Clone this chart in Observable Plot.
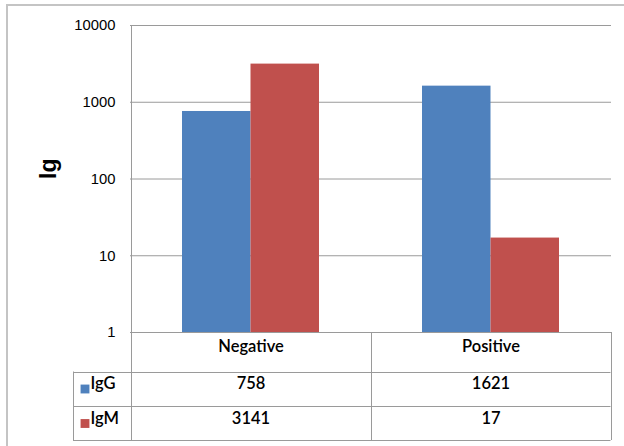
<!DOCTYPE html>
<html><head><meta charset="utf-8">
<script src="https://cdn.jsdelivr.net/npm/d3@7"></script>
<script src="https://cdn.jsdelivr.net/npm/@observablehq/plot@0.6"></script>
<style>body{margin:0;background:#fff}#chart svg{display:block}</style>
</head><body><div id="chart"></div>
<script>
const categories = ["Negative", "Positive"];
const seriesNames = ["IgG", "IgM"];
const igG = [758, 1621];
const igM = [3141, 17];
const yTicks = [1, 10, 100, 1000, 10000];
const colors = ["#4f81bd", "#c0504d"];
const yLabel = "Ig";

const rows = categories.flatMap((c, i) => [
  {category: c, series: "IgG", value: igG[i]},
  {category: c, series: "IgM", value: igM[i]}
]);
const halfBand = 68.5;
const tableFont = "Lato, 'Open Sans', sans-serif";
const tableStyle = {fontSize: 16.5, fontWeight: 600, fontFamily: tableFont, fill: "#000"};

const plot = Plot.plot({
  width: 624, height: 446,
  marginLeft: 130, marginRight: 13, marginTop: 25, marginBottom: 114,
  style: {background: "#fff", overflow: "visible"},
  x: {domain: categories, paddingInner: 0.43, paddingOuter: 0.215, axis: null},
  y: {type: "log", domain: [1, 10000], axis: null},
  marks: [
    Plot.ruleY(yTicks, {y: d => d, stroke: "#9a9a9a", strokeWidth: 1}),
    Plot.barY(rows.filter(d => d.series === "IgG"), {x: "category", y1: 1, y2: "value", fill: colors[0], insetRight: halfBand}),
    Plot.barY(rows.filter(d => d.series === "IgM"), {x: "category", y1: 1, y2: "value", fill: colors[1], insetLeft: halfBand}),
    Plot.axisY({ticks: yTicks, tickFormat: d => String(d), tickSize: 0, tickPadding: 15, label: null,
      fontSize: 14.8, fontFamily: "'Liberation Sans', Arial, sans-serif", fill: "#000"}),
    Plot.text([yLabel], {frameAnchor: "left", dx: -82, rotate: -90, text: d => d,
      fontSize: 23, fontWeight: "bold", fontFamily: "'Liberation Sans', Arial, sans-serif", fill: "#000"}),
    // table header
    Plot.text(categories, {x: d => d, frameAnchor: "bottom", dy: 19.5, text: d => d, ...tableStyle}),
    // table values
    Plot.text(rows.filter(d => d.series === "IgG"), {x: "category", frameAnchor: "bottom", dy: 56.5, text: d => String(d.value), ...tableStyle}),
    Plot.text(rows.filter(d => d.series === "IgM"), {x: "category", frameAnchor: "bottom", dy: 91, text: d => String(d.value), ...tableStyle}),
    // row labels
    Plot.text([seriesNames[0]], {frameAnchor: "bottom-left", dx: -40, dy: 56.5, text: d => d, textAnchor: "start", ...tableStyle}),
    Plot.text([seriesNames[1]], {frameAnchor: "bottom-left", dx: -40, dy: 91, text: d => d, textAnchor: "start", ...tableStyle}),
    Plot.dot([seriesNames[0]], {frameAnchor: "bottom-left", dx: -45.5, dy: 56.5, symbol: "square", r: 5, fill: colors[0]}),
    Plot.dot([seriesNames[1]], {frameAnchor: "bottom-left", dx: -45.5, dy: 91, symbol: "square", r: 5, fill: colors[1]})
  ]
});

// table grid and outer border, positioned from the plot's own x scale
const sx = plot.scale("x");
const step = sx.step;
const leftEdge = sx.apply(categories[0]) - (step - sx.bandwidth) / 2;
const edges = categories.map((c, i) => leftEdge + i * step).concat([leftEdge + categories.length * step]);
const yBottom = 332, rowY = [371.5, 406, 440], labelLeft = 73, plotTop = 25;
const svg = d3.select(plot);
const g = svg.append("g").attr("stroke", "#9a9a9a").attr("stroke-width", 1);
const L = (x1, y1, x2, y2) => g.append("line").attr("x1", x1).attr("y1", y1).attr("x2", x2).attr("y2", y2);
L(Math.round(edges[0]) + 0.5, plotTop, Math.round(edges[0]) + 0.5, rowY[2]);
edges.slice(1).forEach(x => L(Math.round(x) + 0.5, yBottom, Math.round(x) + 0.5, rowY[2]));
rowY.forEach(y => L(labelLeft, Math.round(y) + 0.5, edges[edges.length - 1], Math.round(y) + 0.5));
L(labelLeft + 0.5, rowY[0], labelLeft + 0.5, rowY[2]);
svg.append("rect").attr("x", 7).attr("y", 5).attr("width", 700).attr("height", 600)
  .attr("fill", "none").attr("stroke", "#c4c4c4").attr("stroke-width", 2);

document.getElementById("chart").append(plot);
</script>
</body></html>
